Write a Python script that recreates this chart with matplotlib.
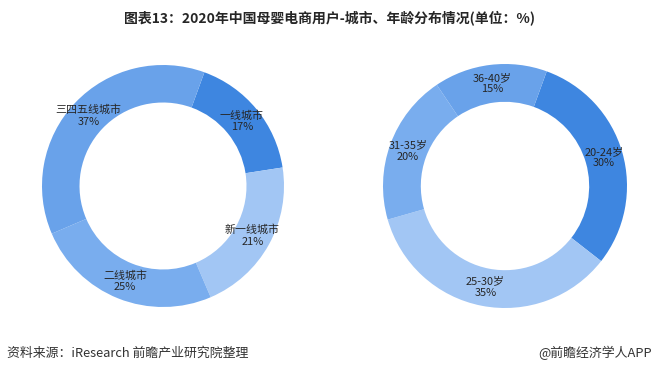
import matplotlib
matplotlib.use("Agg")
import matplotlib.pyplot as plt
import numpy as np

plt.rcParams['font.family'] = ['Noto Sans CJK SC', 'DejaVu Sans']

# ---- Data ----
city_labels = ["一线城市", "新一线城市", "二线城市", "三四五线城市"]
city_values = [17, 21, 25, 37]

age_labels = ["20-24岁", "25-30岁", "31-35岁", "36-40岁"]
age_values = [30, 35, 20, 15]

colors = ["#3E86E0", "#A2C6F4", "#79ADEE", "#69A2EA"]

title = "图表13：2020年中国母婴电商用户-城市、年龄分布情况(单位：%)"
source = "资料来源：iResearch 前瞻产业研究院整理"
brand = "@前瞻经济学人APP"

W, H = 659, 374
fig = plt.figure(figsize=(W / 100, H / 100), dpi=100)
fig.patch.set_facecolor("white")


def px_axes(cx, cy, r):
    return fig.add_axes([(cx - r) / W, (H - cy - r) / H, 2 * r / W, 2 * r / H])


def draw_donut(ax, labels, values):
    wedges, _ = ax.pie(values, colors=colors, startangle=70, counterclock=False,
                       radius=1, wedgeprops=dict(width=0.31, edgecolor="none"))
    for w, lab, v in zip(wedges, labels, values):
        ang = np.deg2rad((w.theta1 + w.theta2) / 2)
        r = 0.845
        ax.text(r * np.cos(ang), r * np.sin(ang), f"{lab}\n{v}%",
                ha="center", va="center", fontsize=7.9, color="#262626",
                linespacing=1.2)
    ax.set_xlim(-1, 1)
    ax.set_ylim(-1, 1)
    ax.set_aspect("equal")
    ax.axis("off")


ax_left = px_axes(163, 186, 121)
draw_donut(ax_left, city_labels, city_values)

ax_right = px_axes(505, 186, 122)
draw_donut(ax_right, age_labels, age_values)

# ---- Texts ----
fig.text(0.5, 1 - 18 / H, title, ha="center", va="center",
         fontsize=10, fontweight="bold", color="#262626")
fig.text(7 / W, 1 - 353 / H, source, ha="left", va="center",
         fontsize=9.3, color="#333333")
fig.text(652 / W, 1 - 353 / H, brand, ha="right", va="center",
         fontsize=9.3, color="#333333")

fig.savefig("out.png", dpi=100, facecolor="white")
